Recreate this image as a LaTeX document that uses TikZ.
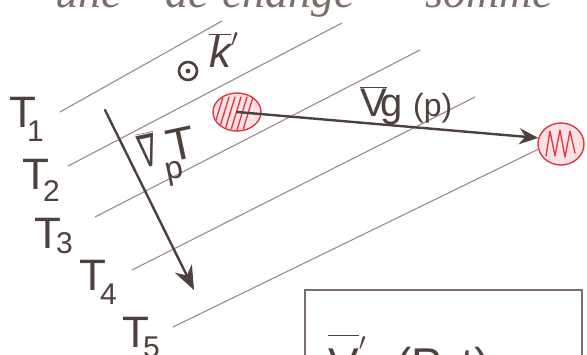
\documentclass[tikz,border=0pt]{standalone}
\usepackage{graphicx}
\usepackage{fontspec}
\setmainfont{Liberation Sans}
\newfontfamily\dejavu{DejaVu Sans}
\newfontfamily\cursive{Liberation Serif}
\usetikzlibrary{arrows.meta,shapes.geometric}
\definecolor{ink}{HTML}{4E403D}
\definecolor{pencil}{HTML}{9A8A88}
\definecolor{boxink}{HTML}{7D6D6B}
\definecolor{redink}{HTML}{E3343F}
\definecolor{pinkfill}{HTML}{FBE3E5}
\newcommand{\fs}[1]{\fontsize{#1}{#1}\selectfont}
\newcommand{\Tlab}[3]{T\kern#1\raisebox{#2}{\fs{30}#3}}
\tikzset{
  iso/.style={draw=pencil, line width=1.1pt, line cap=round},
  vecarrow/.style={draw=ink, line width=2.4pt, line cap=round, -{Stealth[length=19pt,width=16pt]}},
  lab/.style={text=ink, inner sep=0pt},
  tlab/.style={lab, anchor=north west, font=\fs{44}},
  blob/.style={ellipse, draw=redink, line width=1.4pt, fill=pinkfill, inner sep=0pt},
  hatch/.style={draw=redink, line width=1.3pt, line cap=round},
  boxline/.style={draw=boxink, line width=2.8pt},
  toptext/.style={lab, anchor=base west, text=boxink, font=\cursive\itshape\fs{46}}
}
\begin{document}
\begin{tikzpicture}[x=1pt,y=-1pt]
\useasboundingbox (0,0) rectangle (587,354);
\fill[white] (0,0) rectangle (587,354);
\clip (0,0) rectangle (587,354);

% handwritten heading, cut by the top edge
\node[toptext] (w1) at (55,7) {une};
\node[toptext] (w2) at (165,7) {de};
\node[toptext] (w3) at (222,7) {change};
\node[toptext] (w4) at (425,7) {somme};

% isotherms
\draw[iso] (60,112) -- (222,21);
\draw[iso] (68,166) -- (342,23);
\draw[iso] (95,217) -- (420,50);
\draw[iso] (132,270) -- (475,97);
\draw[iso] (173,327) -- (547,145);

% temperature labels
\node[tlab] (t1) at (9,97)   {\Tlab{-9pt}{-14pt}{1}};
\node[tlab] (t2) at (22,159) {\Tlab{-6pt}{-12pt}{2}};
\node[tlab] (t3) at (34,218) {\Tlab{-5pt}{-5pt}{3}};
\node[tlab] (t4) at (79,260) {\Tlab{-6pt}{-14pt}{4}};
\node[tlab] (t5) at (122,317) {\Tlab{-6pt}{-10pt}{5}};

% k vector out of the page
\node[circle, draw=ink, line width=2.6pt, minimum size=18pt, inner sep=0pt] (odot) at (188,71) {};
\fill[ink] (odot.center) circle (2.4pt);
\node[lab, anchor=base west, font=\itshape\fs{44}] (kvec) at (209,67) {$\overline{\mbox{k}}$\raisebox{0.25em}{$^{\prime}$}};

% particles
\node[blob, minimum width=48pt, minimum height=38pt] (p1) at (237,112) {};
\node[blob, minimum width=46pt, minimum height=42pt] (p2) at (561,144) {};
\begin{scope}
  \clip (237,112) ellipse [x radius=23pt, y radius=18pt];
  \foreach \x in {218,224,230,236,242,248}
    \draw[hatch] (\x-5,130) -- (\x+5,97);
\end{scope}
\begin{scope}
  \clip (561,144) ellipse [x radius=22pt, y radius=20pt];
  \draw[hatch, line join=round] (546,156) -- (550,131) -- (555,156) -- (560,130) -- (565,157) -- (570,131) -- (575,153);
\end{scope}

% group velocity
\draw[vecarrow] (p1.center) -- (p2.165);
\node[lab, anchor=base west, font=\fs{40}] (vg) at (360,116)
  {$\overline{\mbox{V}}$\kern-6pt g\hspace{10pt}{\fs{32}(p)}};

% temperature gradient
\coordinate (gs) at (105,110);
\coordinate (ge) at (194,290);
\draw[vecarrow, -{Stealth[length=24pt,width=19pt]}] (gs) -- (ge);
\node[lab, rotate=12, font=\fs{46}] (grad) at (169,157)
  {$\overline{\mbox{\dejavu\fs{36}\scalebox{0.75}[1.25]{∇}}}$\kern4pt\raisebox{-17pt}{\fs{32}p}\kern-11pt T};

% framed formula, cut by the bottom edge
\draw[boxline] (305,380) -- (305,290) -- (582,290) -- (582,380);
\node[lab, anchor=base west, font=\fs{46}] (vbox) at (328,380)
  {$\overline{\mbox{V}\rule{0pt}{0.95em}}$\raisebox{0.45em}{$^{\prime}$}\hspace{30pt}(P, t)};
\end{tikzpicture}
\end{document}
